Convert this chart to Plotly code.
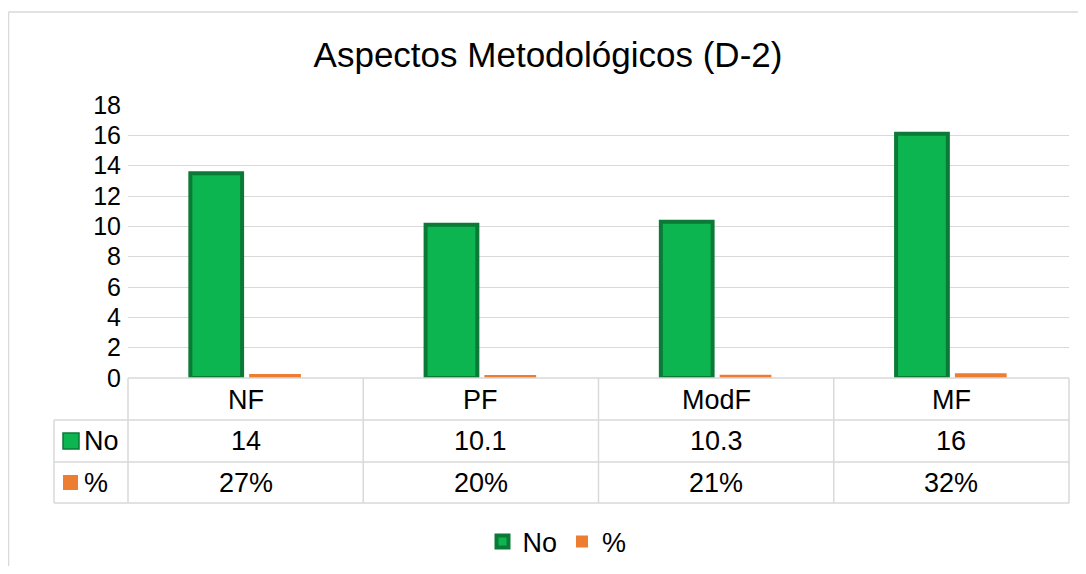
import plotly.graph_objects as go

categories = ["NF", "PF", "ModF", "MF"]
no_values = [13.5, 10.1, 10.3, 16.1]
pct_values = [0.27, 0.20, 0.21, 0.32]
no_labels = ["14", "10.1", "10.3", "16"]
pct_labels = ["27%", "20%", "21%", "32%"]
series_names = ["No", "%"]
title_text = "Aspectos Metodológicos (D-2)"

GREEN = "#0DB550"
GREEN_DARK = "#0A7A36"
ORANGE = "#ED7D31"
GRID = "#D9D9D9"
FONT = "Liberation Sans, Arial, sans-serif"

OFF = 8  # page body margin
W, H = 1086 - 2 * OFF, 574 - 2 * OFF
# plot area in reference pixel coordinates
X0, X1, Y0, Y1 = 128, 1069, 105, 378
L, R, T, B = X0 - OFF, (OFF + W) - X1, Y0 - OFF, (OFF + H) - Y1
pw = X1 - X0
ph = Y1 - Y0


def px_x(x):
    return (x - X0) / pw


def px_y(y):
    return (Y1 - y) / ph


fig = go.Figure()
fig.add_trace(go.Bar(
    x=categories, y=no_values, name=series_names[0],
    marker=dict(color=GREEN, line=dict(color=GREEN_DARK, width=4)),
))
fig.add_trace(go.Bar(
    x=categories, y=pct_values, name=series_names[1],
    marker=dict(color=ORANGE, line=dict(width=0)),
))

shapes = []
line_style = dict(color=GRID, width=1.5)
for yy in [420, 462, 503]:
    shapes.append(dict(type="line", xref="paper", yref="paper",
                       x0=px_x(54), x1=1, y0=px_y(yy), y1=px_y(yy), line=line_style))
shapes.append(dict(type="line", xref="paper", yref="paper",
                   x0=0, x1=1, y0=0, y1=0, line=line_style))
n = len(categories)
for i in range(n + 1):
    shapes.append(dict(type="line", xref="paper", yref="paper",
                       x0=i / n, x1=i / n, y0=0, y1=px_y(503), line=line_style))
shapes.append(dict(type="line", xref="paper", yref="paper",
                   x0=px_x(54), x1=px_x(54), y0=px_y(420), y1=px_y(503), line=line_style))
# legend keys inside the data table
shapes.append(dict(type="rect", xref="paper", yref="paper",
                   x0=px_x(63), x1=px_x(79), y0=px_y(449), y1=px_y(433),
                   fillcolor=GREEN, line=dict(color=GREEN_DARK, width=1.5)))
shapes.append(dict(type="rect", xref="paper", yref="paper",
                   x0=px_x(63), x1=px_x(78), y0=px_y(490), y1=px_y(475),
                   fillcolor=ORANGE, line=dict(width=0)))
# outer chart border (left and top)
shapes.append(dict(type="line", xref="paper", yref="paper",
                   x0=px_x(8.5), x1=px_x(8.5), y0=px_y(12), y1=px_y(580), line=line_style))
shapes.append(dict(type="line", xref="paper", yref="paper",
                   x0=px_x(8.5), x1=px_x(1090), y0=px_y(12), y1=px_y(12), line=line_style))

annotations = []
tf = dict(family=FONT, size=27, color="#000000")
for i, c in enumerate(categories):
    annotations.append(dict(x=c, xref="x", y=px_y(400), yref="paper", text=c,
                            showarrow=False, font=tf, xanchor="center", yanchor="middle"))
    annotations.append(dict(x=c, xref="x", y=px_y(441), yref="paper", text=no_labels[i],
                            showarrow=False, font=tf, xanchor="center", yanchor="middle"))
    annotations.append(dict(x=c, xref="x", y=px_y(483), yref="paper", text=pct_labels[i],
                            showarrow=False, font=tf, xanchor="center", yanchor="middle"))
annotations.append(dict(x=px_x(82), xref="paper", y=px_y(441), yref="paper", text=series_names[0],
                        showarrow=False, font=tf, xanchor="left", yanchor="middle"))
annotations.append(dict(x=px_x(82), xref="paper", y=px_y(483), yref="paper", text=series_names[1],
                        showarrow=False, font=tf, xanchor="left", yanchor="middle"))

fig.update_layout(
    width=W, height=H,
    margin=dict(l=L, r=R, t=T, b=B, autoexpand=False),
    paper_bgcolor="white", plot_bgcolor="white",
    barmode="group", bargap=0.5, bargroupgap=0.12,
    title=dict(text=title_text, x=(548 - OFF) / W, xref="container", xanchor="center",
               y=1 - (55 - OFF) / H, yref="container", yanchor="middle",
               font=dict(family=FONT, size=35, color="#000000")),
    font=dict(family=FONT, size=25, color="#000000"),
    xaxis=dict(showticklabels=False, showgrid=False, zeroline=False, showline=False, ticks=""),
    yaxis=dict(range=[0, 18], dtick=2, showgrid=True, gridcolor=GRID, gridwidth=1,
               zeroline=False, showline=False, ticks="", ticklabelstandoff=6,
               tickfont=dict(family=FONT, size=25, color="#000000")),
    legend=dict(orientation="h", x=(557 - OFF) / W, xanchor="center",
                xref="container", y=1 - (542 - OFF) / H, yref="container", yanchor="middle",
                font=dict(family=FONT, size=27, color="#000000"),
                itemwidth=30, tracegroupgap=0, bgcolor="rgba(0,0,0,0)"),
    shapes=shapes,
    annotations=annotations,
)

fig.write_html("out.html")
